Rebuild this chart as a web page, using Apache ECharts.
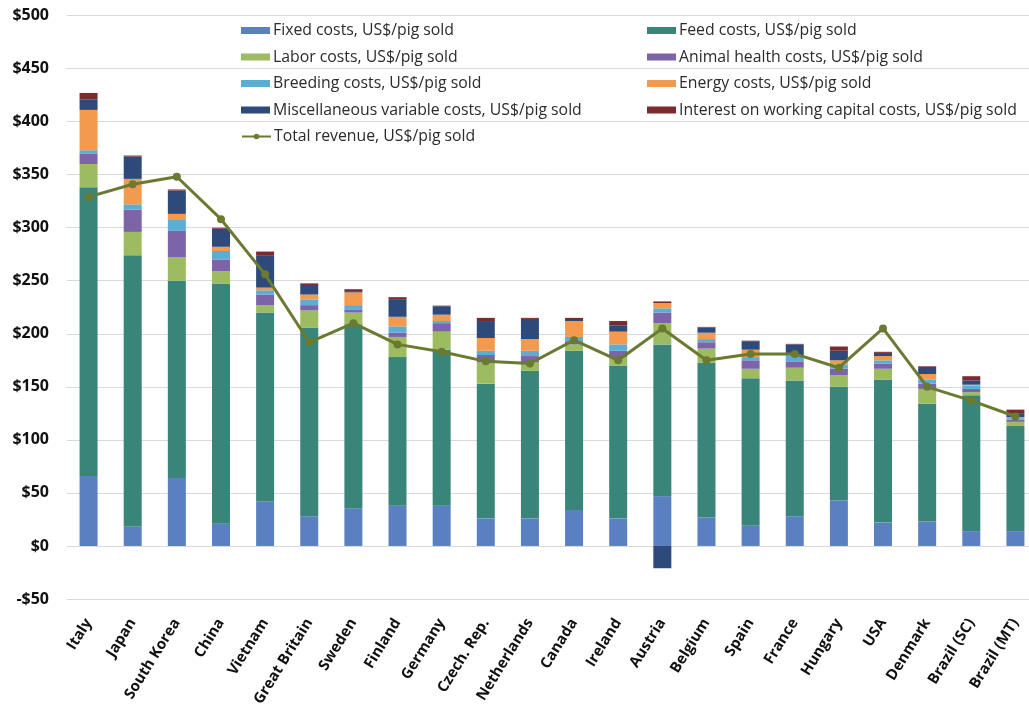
<!DOCTYPE html>
<html>
<head>
<meta charset="utf-8">
<script src="https://cdn.jsdelivr.net/npm/echarts@6/dist/echarts.min.js"></script>
<style>
  html, body { margin: 0; padding: 0; background: #fff; }
  #chart { width: 1029px; height: 706px; }
</style>
</head>
<body>
<div id="chart"></div>
<script>
// categories (countries)
const countries = ['Italy', 'Japan', 'South Korea', 'China', 'Vietnam', 'Great Britain', 'Sweden', 'Finland',
  'Germany', 'Czech. Rep.', 'Netherlands', 'Canada', 'Ireland', 'Austria', 'Belgium', 'Spain', 'France',
  'Hungary', 'USA', 'Denmark', 'Brazil (SC)', 'Brazil (MT)'];

// cost components, US$/pig sold
const fixedCosts    = [66, 18, 64, 21, 42, 28, 35, 38, 38, 26, 26, 34, 26, 47, 27, 19, 28, 43, 22, 23, 14, 14];
const feedCosts     = [272, 256, 186, 226, 178, 178, 174, 140, 147, 127, 139, 150, 144, 143, 146, 139, 128, 107, 135, 111, 128, 99];
const laborCosts    = [22, 22, 22, 12, 7, 16, 11, 19, 17, 20, 8, 6, 8, 20, 13, 9, 12, 11, 10, 14, 3, 4];
const healthCosts   = [10, 21, 25, 11, 10, 5, 3, 4, 8, 7, 6, 3, 6, 10, 6, 8, 6, 6, 5, 5, 3, 2];
const breedingCosts = [3, 5, 11, 8, 4, 5, 4, 6, 2, 4, 5, 4, 6, 4, 3, 3, 5, 4, 3, 4, 3, 1.5];
const energyCosts   = [38, 24, 5, 4, 2.5, 5, 12, 9, 6, 12, 11, 15, 12, 5, 6, 7, 1, 4, 4, 5, 1, 1];
const miscCosts     = [10, 21, 22, 17, 30, 9, 0.5, 16, 8, 16, 19, 1, 6, -21, 5, 8, 10, 9, 3, 7, 4, 3];
const interestCosts = [6, 1, 1, 1, 4, 1.5, 2.5, 2.5, 0.5, 3, 1, 2, 4, 1.5, 0.5, 0.5, 0.5, 4, 1, 0.5, 4, 4];
const totalRevenue  = [329, 341, 348, 308, 256, 192, 210, 190, 183, 174, 172, 194, 175, 205, 175, 181, 181, 168, 205, 150, 137, 122];

const yTicks = { min: -50, max: 500, step: 50 };

const FONT = '"Open Sans", "Noto Sans", sans-serif';

const costSeries = [
  { name: 'Fixed costs, US$/pig sold', data: fixedCosts, color: '#5b80c1' },
  { name: 'Feed costs, US$/pig sold', data: feedCosts, color: '#3a8579' },
  { name: 'Labor costs, US$/pig sold', data: laborCosts, color: '#9dbb61' },
  { name: 'Animal health costs, US$/pig sold', data: healthCosts, color: '#7d64a9' },
  { name: 'Breeding costs, US$/pig sold', data: breedingCosts, color: '#5badd4' },
  { name: 'Energy costs, US$/pig sold', data: energyCosts, color: '#f39a4e' },
  { name: 'Miscellaneous variable costs, US$/pig sold', data: miscCosts, color: '#2d4a7b' },
  { name: 'Interest on working capital costs, US$/pig sold', data: interestCosts, color: '#7a2b2e' }
];
const revenueName = 'Total revenue, US$/pig sold';
const lineColor = '#6a7a30';

// legend: two columns, rows ~26.5px apart
const legendNames = costSeries.map(s => s.name).concat([revenueName]);
const legends = legendNames.map((name, i) => {
  const col = i % 2;
  const row = Math.floor(i / 2);
  const lg = {
    left: col ? 647 : 241,
    top: 20.5 + row * 26.5,
    padding: 0,
    itemWidth: 29,
    itemHeight: 7,
    textStyle: { fontFamily: FONT, fontSize: 15.8, color: '#2b2b2b', lineHeight: 20, padding: [0, 0, 0, -2] },
    data: [name]
  };
  if (name !== revenueName) lg.icon = 'rect';
  return lg;
});

const chart = echarts.init(document.getElementById('chart'), null, { renderer: 'canvas' });

const option = {
  backgroundColor: '#fff',
  animation: false,
  legend: legends,
  grid: { left: 66.5, right: -8.5, top: 15.5, bottom: 107, containLabel: false, outerBoundsMode: 'none' },
  xAxis: {
    type: 'category',
    data: countries,
    position: 'bottom',
    axisLine: { show: false },
    axisTick: { show: false },
    axisLabel: {
      rotate: 58, interval: 0, margin: 21,
      fontFamily: FONT, fontSize: 15, fontWeight: 'bold', color: '#111'
    }
  },
  yAxis: {
    type: 'value',
    min: yTicks.min, max: yTicks.max, interval: yTicks.step,
    axisLine: { show: false },
    axisTick: { show: false },
    splitLine: { lineStyle: { color: '#d9d9d9', width: 1 } },
    axisLabel: {
      margin: 17.5,
      fontFamily: FONT, fontSize: 16, fontWeight: 'bold', color: '#111',
      formatter: v => (v < 0 ? '-$' + Math.abs(v) : '$' + v)
    }
  },
  series: costSeries.map(s => ({
    name: s.name,
    type: 'bar',
    stack: 'cost',
    barWidth: 18,
    data: s.data,
    itemStyle: { color: s.color }
  })).concat([{
    name: revenueName,
    type: 'line',
    data: totalRevenue,
    z: 5,
    symbol: 'circle',
    symbolSize: 8,
    lineStyle: { color: lineColor, width: 3 },
    itemStyle: { color: lineColor }
  }])
};

chart.setOption(option);
</script>
</body>
</html>
